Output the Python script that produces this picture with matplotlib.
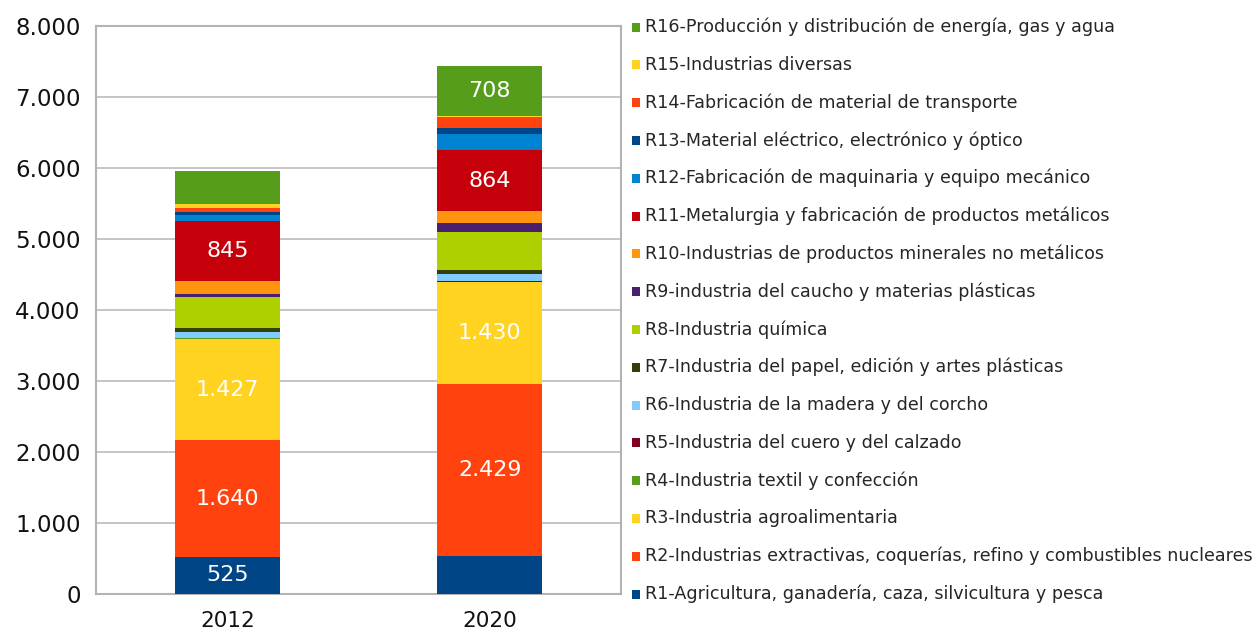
import matplotlib
matplotlib.use("Agg")
import matplotlib.pyplot as plt
from matplotlib.patches import Rectangle

years = ["2012", "2020"]
sectors = [
    "R1-Agricultura, ganadería, caza, silvicultura y pesca",
    "R2-Industrias extractivas, coquerías, refino y combustibles nucleares",
    "R3-Industria agroalimentaria",
    "R4-Industria textil y confección",
    "R5-Industria del cuero y del calzado",
    "R6-Industria de la madera y del corcho",
    "R7-Industria del papel, edición y artes plásticas",
    "R8-Industria química",
    "R9-industria del caucho y materias plásticas",
    "R10-Industrias de productos minerales no metálicos",
    "R11-Metalurgia y fabricación de productos metálicos",
    "R12-Fabricación de maquinaria y equipo mecánico",
    "R13-Material eléctrico, electrónico y óptico",
    "R14-Fabricación de material de transporte",
    "R15-Industrias diversas",
    "R16-Producción y distribución de energía, gas y agua",
]
values_2012 = [525, 1640, 1427, 12, 5, 85, 55, 435, 40, 180, 845, 85, 40, 60, 60, 470]
values_2020 = [530, 2429, 1430, 10, 5, 100, 55, 535, 125, 170, 864, 225, 85, 155, 15, 708]
# which segments carry a value label
labelled_2012 = [True, True, True] + [False] * 7 + [True] + [False] * 5
labelled_2020 = [False, True, True] + [False] * 7 + [True] + [False] * 4 + [True]

colors = ["#004586", "#ff420e", "#ffd320", "#579d1c", "#7e0021", "#83caff",
          "#314004", "#aecf00", "#4b1f6f", "#ff950e", "#c5000b", "#0084d1",
          "#004586", "#ff420e", "#ffd320", "#579d1c"]

W, H = 1255, 639
fig = plt.figure(figsize=(W / 100, H / 100), dpi=100)
ax = fig.add_axes([96 / W, (H - 594) / H, 525 / W, 568 / H])

def fmt(v):
    return f"{v:,.0f}".replace(",", ".")

x = list(range(len(years)))
bottoms = [0, 0]
for i, name in enumerate(sectors):
    vals = [values_2012[i], values_2020[i]]
    bars = ax.bar(x, vals, width=0.4, bottom=bottoms, color=colors[i],
                  edgecolor="none", zorder=3)
    labs = [fmt(vals[0]) if labelled_2012[i] else "",
            fmt(vals[1]) if labelled_2020[i] else ""]
    ax.bar_label(bars, labels=labs, label_type="center", color="white",
                 fontsize=16, family="DejaVu Sans")
    bottoms = [bottoms[0] + vals[0], bottoms[1] + vals[1]]

ax.set_xlim(-0.5, 1.5)
ax.set_ylim(0, 8000)
ax.set_yticks(range(0, 8001, 1000))
ax.set_yticklabels([fmt(v) for v in range(0, 8001, 1000)], fontsize=16.5)
ax.set_xticks(x)
ax.set_xticklabels(years, fontsize=15.5)
ax.tick_params(axis="both", length=0, colors="#111111")
ax.tick_params(axis="y", pad=11)
ax.tick_params(axis="x", pad=12)
ax.grid(axis="y", color="#c0c0c0", linewidth=1.3, zorder=0)
for s in ax.spines.values():
    s.set_color("#b3b3b3")
    s.set_linewidth(1.5)

# manual legend (R16 at top down to R1 at bottom)
fig.canvas.draw()
renderer = fig.canvas.get_renderer()
longest = max(sectors, key=len)
t = fig.text(0, 0, longest, fontsize=12, family="DejaVu Sans")
w = t.get_window_extent(renderer).width
t.remove()
fs = 12 * 602 / w
top_y, step = 27, (594 - 27) / 15
for k, i in enumerate(reversed(range(len(sectors)))):
    yc = top_y + k * step
    fig.patches.append(Rectangle(((632) / W, (H - yc - 4.5) / H), 8 / W, 9 / H,
                                 transform=fig.transFigure, facecolor=colors[i],
                                 edgecolor="none"))
    fig.text(645 / W, (H - yc) / H, sectors[i], fontsize=fs, family="DejaVu Sans",
             va="center", ha="left", color="#262626")

fig.savefig("out.png", dpi=100)
